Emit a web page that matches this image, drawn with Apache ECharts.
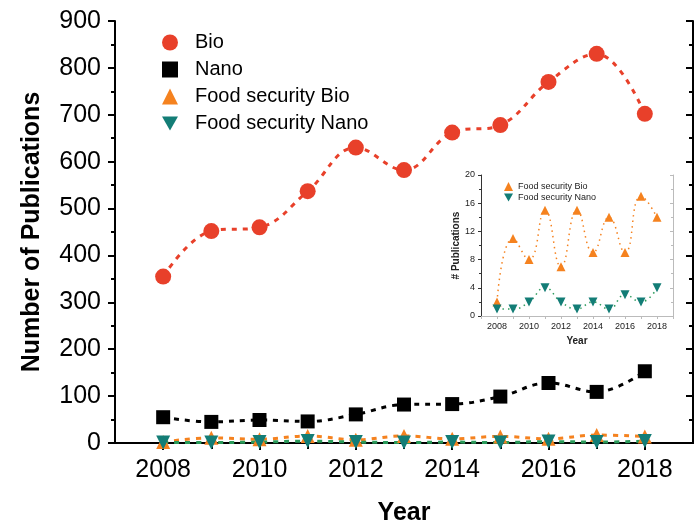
<!DOCTYPE html>
<html>
<head>
<meta charset="utf-8">
<script src="https://cdn.jsdelivr.net/npm/echarts@6/dist/echarts.min.js"></script>
<style>
  html, body { margin: 0; padding: 0; background: #fff; }
  #chart { width: 700px; height: 531px; }
</style>
</head>
<body>
<div id="chart"></div>
<script>
// data
var years = [2008, 2009, 2010, 2011, 2012, 2013, 2014, 2015, 2016, 2017, 2018];
var bio = [355, 452, 460, 537, 630, 582, 662, 678, 770, 830, 702];
var nano = [55, 45, 49, 46, 61, 82, 83, 99, 128, 109, 153];
var foodBio = [2, 11, 8, 15, 7, 15, 9, 14, 9, 17, 14];
var foodNano = [1, 1, 2, 4, 2, 1, 2, 1, 3, 2, 4];
var yearLabels = [2008, 2010, 2012, 2014, 2016, 2018];
var allYears = [2007, 2008, 2009, 2010, 2011, 2012, 2013, 2014, 2015, 2016, 2017, 2018, 2019];

var FONT = 'Liberation Sans, Arial, sans-serif';
var RED = '#e8402a', BLACK = '#000', ORANGE = '#f5821f', TEAL = '#137d76', GREEN = '#2a9a5a';
var DOWN_TRI = 'path://M0,0 L10,0 L5,8.7 Z';

function pairs(ys) {
    return years.map(function(x, i) { return [x, ys[i]]; });
}
function plain(v) { return String(v); }

var chart = echarts.init(document.getElementById('chart'));

// main axes
var axisLine = { show: true, lineStyle: { color: '#000', width: 2 } };
var xAxes = [{
    // bottom, labelled
    type: 'value', gridIndex: 0, position: 'bottom', min: 2007, max: 2019,
    axisLine: axisLine,
    axisTick: { show: true, inside: false, length: 7, customValues: yearLabels, lineStyle: { width: 2 } },
    axisLabel: { customValues: yearLabels, formatter: plain, fontSize: 25, color: '#000', fontFamily: FONT, margin: 15 },
    splitLine: { show: false },
    name: 'Year', nameLocation: 'middle', nameGap: 58,
    nameTextStyle: { fontSize: 25, fontWeight: 'bold', color: '#000', fontFamily: FONT }
}, {
    // top frame
    type: 'value', gridIndex: 0, position: 'top', min: 2007, max: 2019,
    axisLine: axisLine,
    axisTick: { show: true, inside: true, length: 6, customValues: years, lineStyle: { width: 2 } },
    axisLabel: { show: false },
    splitLine: { show: false }
}];
var yAxes = [{
    type: 'value', gridIndex: 0, position: 'left', min: 0, max: 900, interval: 100,
    axisLine: axisLine,
    axisTick: { show: true, inside: false, length: 7, lineStyle: { width: 2 } },
    minorTick: { show: true, splitNumber: 2, length: 4, lineStyle: { color: '#000', width: 2 } },
    axisLabel: { fontSize: 25, color: '#000', fontFamily: FONT, margin: 14 },
    splitLine: { show: false },
    name: 'Number of Publications', nameLocation: 'middle', nameGap: 70, nameRotate: 90,
    nameTextStyle: { fontSize: 25, fontWeight: 'bold', color: '#000', fontFamily: FONT }
}, {
    type: 'value', gridIndex: 0, position: 'right', min: 0, max: 900, interval: 100,
    axisLine: axisLine,
    axisTick: { show: true, inside: true, length: 7, lineStyle: { width: 2 } },
    minorTick: { show: true, splitNumber: 2, length: 4, lineStyle: { color: '#000', width: 2 } },
    axisLabel: { show: false },
    splitLine: { show: false }
}];

// inset axes
var insetLine = { show: true, lineStyle: { color: '#333', width: 1 } };
var insetFrame = { show: true, lineStyle: { color: '#bbb', width: 1 } };
var insetText = { fontSize: 9, color: '#222', fontFamily: FONT, margin: 6 };
xAxes.push({
    type: 'value', gridIndex: 1, position: 'bottom', min: 2007, max: 2019,
    axisLine: insetLine,
    axisTick: { show: true, length: 3, customValues: allYears, lineStyle: { color: '#333' } },
    axisLabel: Object.assign({ customValues: yearLabels, formatter: plain }, insetText),
    splitLine: { show: false },
    name: 'Year', nameLocation: 'middle', nameGap: 20,
    nameTextStyle: { fontSize: 10, fontWeight: 'bold', color: '#222', fontFamily: FONT }
}, {
    type: 'value', gridIndex: 1, position: 'top', min: 2007, max: 2019,
    axisLine: insetFrame,
    axisTick: { show: true, inside: true, length: 3, customValues: allYears, lineStyle: { color: '#bbb' } },
    axisLabel: { show: false },
    splitLine: { show: false }
});
yAxes.push({
    type: 'value', gridIndex: 1, position: 'left', min: 0, max: 20, interval: 4,
    axisLine: insetLine,
    axisTick: { show: true, length: 3, lineStyle: { color: '#333' } },
    minorTick: { show: true, splitNumber: 2, length: 2, lineStyle: { color: '#333' } },
    axisLabel: insetText,
    splitLine: { show: false },
    name: '# Publications', nameLocation: 'middle', nameGap: 19, nameRotate: 90,
    nameTextStyle: { fontSize: 10, fontWeight: 'bold', color: '#222', fontFamily: FONT }
}, {
    type: 'value', gridIndex: 1, position: 'right', min: 0, max: 20, interval: 4,
    axisLine: insetFrame,
    axisTick: { show: true, inside: true, length: 3, lineStyle: { color: '#bbb' } },
    minorTick: { show: true, splitNumber: 2, length: 2, lineStyle: { color: '#bbb' } },
    axisLabel: { show: false },
    splitLine: { show: false }
});

function mainLine(name, data, color, lineColor, symbol, size) {
    return {
        name: name, type: 'line', xAxisIndex: 0, yAxisIndex: 0,
        data: pairs(data), smooth: 0.4,
        symbol: symbol, symbolSize: size,
        itemStyle: { color: color },
        lineStyle: { color: lineColor, width: 3, type: [5, 6] },
        z: 3
    };
}
function insetSeries(name, data, color, lineColor, symbol, size) {
    return {
        name: name, type: 'line', xAxisIndex: 2, yAxisIndex: 2,
        data: pairs(data), smooth: 0.5,
        symbol: symbol, symbolSize: size,
        itemStyle: { color: color },
        lineStyle: { color: lineColor, width: 1.5, type: [1.5, 4] },
        z: 3
    };
}

chart.setOption({
    backgroundColor: '#fff',
    animation: false,
    grid: [
        { left: 115, right: 7, top: 21, bottom: 85 },
        { left: 481, right: 27, top: 175, bottom: 215 }
    ],
    legend: [{
        orient: 'vertical', left: 157, top: 27, itemGap: 6,
        itemWidth: 16, itemHeight: 16,
        textStyle: { fontSize: 20, lineHeight: 21, color: '#000', fontFamily: FONT, padding: [0, 0, 0, 12] },
        data: [
            { name: 'Bio', icon: 'circle' },
            { name: 'Nano', icon: 'rect' },
            { name: 'Food security Bio', icon: 'triangle' },
            { name: 'Food security Nano', icon: DOWN_TRI }
        ]
    }, {
        orient: 'vertical', left: 499, top: 177, itemGap: 2,
        itemWidth: 9, itemHeight: 9,
        textStyle: { fontSize: 9, color: '#222', fontFamily: FONT, padding: [0, 0, 0, 0] },
        data: [
            { name: 'Food security Bio', icon: 'triangle' },
            { name: 'Food security Nano', icon: DOWN_TRI }
        ]
    }],
    xAxis: xAxes,
    yAxis: yAxes,
    series: [
        mainLine('Bio', bio, RED, RED, 'circle', 16),
        mainLine('Nano', nano, BLACK, BLACK, 'rect', 14),
        mainLine('Food security Bio', foodBio, ORANGE, ORANGE, 'triangle', 14),
        mainLine('Food security Nano', foodNano, TEAL, GREEN, DOWN_TRI, 14),
        insetSeries('Food security Bio', foodBio, ORANGE, ORANGE, 'triangle', 9),
        insetSeries('Food security Nano', foodNano, TEAL, GREEN, DOWN_TRI, 9)
    ]
});
</script>
</body>
</html>
